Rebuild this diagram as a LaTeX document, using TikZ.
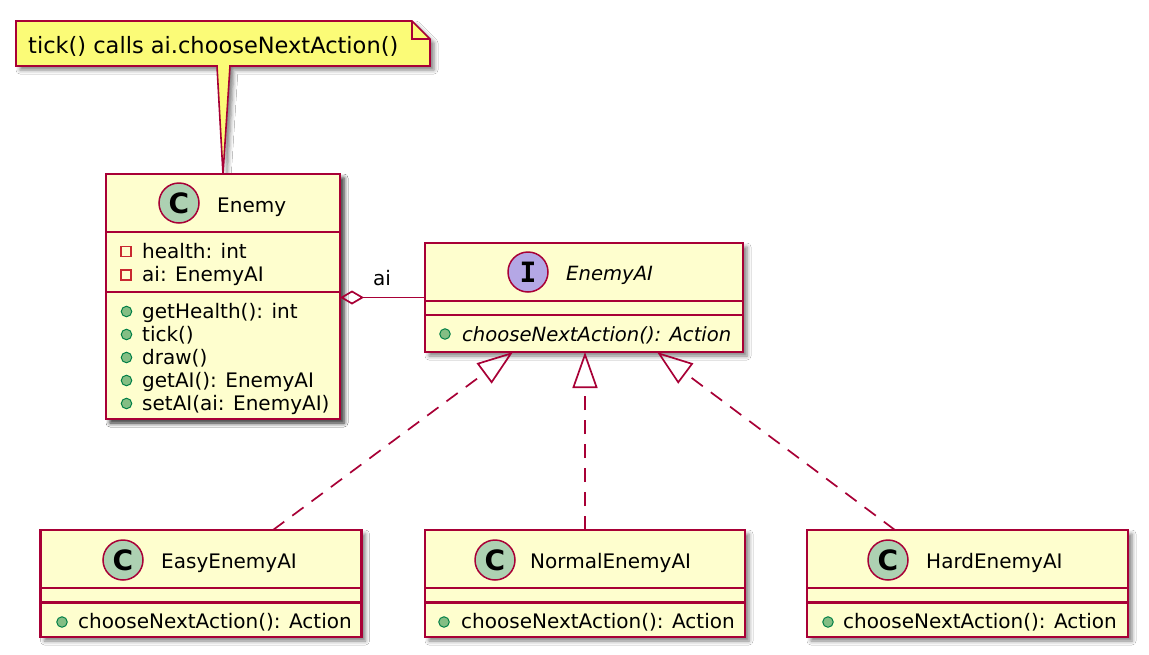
\documentclass[tikz,border=0pt]{standalone}
\usepackage{fontspec}
\setmainfont{DejaVu Sans}
\newfontfamily\monofont{DejaVu Sans Mono}
\usetikzlibrary{arrows.meta,shadows.blur}
\definecolor{umlred}{RGB}{168,0,54}
\definecolor{classbg}{RGB}{254,254,206}
\definecolor{notebg}{RGB}{251,251,119}
\definecolor{circc}{RGB}{173,209,178}
\definecolor{circi}{RGB}{180,167,229}
\definecolor{privred}{RGB}{200,41,48}
\definecolor{pubfill}{RGB}{132,190,132}
\definecolor{publine}{RGB}{3,128,72}
\begin{document}
\begin{tikzpicture}[x=1pt,y=-1pt,
  umlshadow/.style={blur shadow={shadow xshift=4pt,shadow yshift=-4pt,shadow blur radius=4pt,shadow opacity=50}},
  classbox/.style={draw=umlred,line width=2.2pt,fill=classbg,anchor=north west,inner sep=0pt,outer sep=0pt,umlshadow},
  divider/.style={draw=umlred,line width=2.2pt},
  txt/.style={anchor=base west,inner sep=0pt,font=\fontsize{20}{24}\selectfont},
  itxt/.style={anchor=base west,inner sep=0pt,font=\fontsize{19.6}{24}\selectfont\itshape},
  notetxt/.style={anchor=base west,inner sep=0pt,font=\fontsize{22.5}{26}\selectfont},
  headc/.style={circle,draw=umlred,line width=1.5pt,fill=circc,minimum size=40pt,inner sep=0pt,font=\fontsize{28}{28}\selectfont\bfseries},
  headi/.style={circle,draw=umlred,line width=1.5pt,fill=circi,minimum size=40pt,inner sep=0pt,font=\fontsize{28}{28}\selectfont\monofont\bfseries},
  privsq/.style={rectangle,draw=privred,line width=1.5pt,minimum size=10pt,inner sep=0pt},
  pubdot/.style={circle,draw=publine,fill=pubfill,line width=1pt,minimum size=10.5pt,inner sep=0pt},
  notebox/.style={draw=umlred,line width=1.6pt,fill=notebg,umlshadow},
  aggr/.style={draw=umlred,line width=1.7pt,{Diamond[open,length=24pt,width=14pt]}-},
  realize/.style={draw=umlred,line width=1.7pt,dash pattern=on 14pt off 10pt,-{Triangle[open,length=36pt,width=25pt]}}
]
\fill[white] (0,0) rectangle (1149,654);
\useasboundingbox (0,0) rectangle (1149,654);

% class box (first, so its anchors exist for the note pointer)
\node[classbox,minimum width=234pt,minimum height=245pt] (enemy) at (106,174) {};

% note
\path[notebox] (16,21) -- (412,21) -- (430,39) -- (430,66) -- (230,66) -- (enemy.north) -- (217,66) -- (16,66) -- cycle;
\draw[draw=umlred,line width=1.6pt] (412,21) -- (412,39) -- (430,39);
\node[notetxt] (notetext) at (28,53) {tick() calls ai.chooseNextAction()};

% Enemy on top of the note pointer shadow
\node[classbox,minimum width=234pt,minimum height=245pt] (enemy) at (106,174) {};
\draw[divider] (106,232) -- (340,232);
\draw[divider] (106,292) -- (340,292);
\node[headc] (enemyC) at (179,203) {C};
\node[txt] (enemyName) at (217,212) {Enemy};
\node[privsq] (eA1i) at (126,251.5) {};
\node[txt] (eA1) at (142,258) {health: int};
\node[privsq] (eA2i) at (126,275) {};
\node[txt] (eA2) at (142,281) {ai: EnemyAI};
\node[pubdot] (eM1i) at (126.5,311.5) {};
\node[txt] (eM1) at (142,318) {getHealth(): int};
\node[pubdot] (eM2i) at (126.5,334.5) {};
\node[txt] (eM2) at (142,341.5) {tick()};
\node[pubdot] (eM3i) at (126.5,357.5) {};
\node[txt] (eM3) at (142,364.5) {draw()};
\node[pubdot] (eM4i) at (126.5,380.5) {};
\node[txt] (eM4) at (142,387.5) {getAI(): EnemyAI};
\node[pubdot] (eM5i) at (126.5,403.5) {};
\node[txt] (eM5) at (142,410) {setAI(ai: EnemyAI)};

% EnemyAI interface
\node[classbox,minimum width=318pt,minimum height=109pt] (enemyai) at (425,243) {};
\draw[divider] (425,301) -- (743,301);
\draw[divider] (425,315) -- (743,315);
\node[headi] (aiI) at (528,272) {I};
\node[itxt] (aiName) at (566,280) {EnemyAI};
\node[pubdot] (aiM1i) at (445,334) {};
\node[itxt] (aiM1) at (462,341) {chooseNextAction(): Action};

% subclasses
\node[classbox,minimum width=321pt,minimum height=107pt] (easy) at (40.5,530) {};
\draw[divider] (40.5,588) -- (361.5,588);
\draw[divider] (40.5,602.5) -- (361.5,602.5);
\node[headc] (easyC) at (123,560) {C};
\node[txt] (easyName) at (161,568) {EasyEnemyAI};
\node[pubdot] (easyM1i) at (62,622) {};
\node[txt] (easyM1) at (78,628.5) {chooseNextAction(): Action};

\node[classbox,minimum width=320pt,minimum height=107pt] (normal) at (425,530) {};
\draw[divider] (425,588) -- (745,588);
\draw[divider] (425,602.5) -- (745,602.5);
\node[headc] (normalC) at (495,560) {C};
\node[txt] (normalName) at (530,568) {NormalEnemyAI};
\node[pubdot] (normalM1i) at (444,622) {};
\node[txt] (normalM1) at (461,628.5) {chooseNextAction(): Action};

\node[classbox,minimum width=321pt,minimum height=107pt] (hard) at (807,530) {};
\draw[divider] (807,588) -- (1128,588);
\draw[divider] (807,602.5) -- (1128,602.5);
\node[headc] (hardC) at (888,560) {C};
\node[txt] (hardName) at (926,568) {HardEnemyAI};
\node[pubdot] (hardM1i) at (828,622) {};
\node[txt] (hardM1) at (843,628.5) {chooseNextAction(): Action};

% connector end points
\coordinate (aggStart) at (enemy.east |- enemyai.west);
\coordinate (aiT1) at ([xshift=88pt]enemyai.south west);
\coordinate (aiT2) at ([xshift=160pt]enemyai.south west);
\coordinate (aiT3) at ([xshift=232pt]enemyai.south west);
\coordinate (easyTop) at ([xshift=232.5pt]easy.north west);
\coordinate (normalTop) at ([xshift=160pt]normal.north west);
\coordinate (hardTop) at ([xshift=88pt]hard.north west);

% connectors
\draw[aggr] (aggStart) -- (enemyai.west);
\node[txt] (aggLabel) at (373,285) {ai};
\draw[realize] (easyTop) -- (aiT1);
\draw[realize] (normalTop) -- (aiT2);
\draw[realize] (hardTop) -- (aiT3);
\end{tikzpicture}
\end{document}
